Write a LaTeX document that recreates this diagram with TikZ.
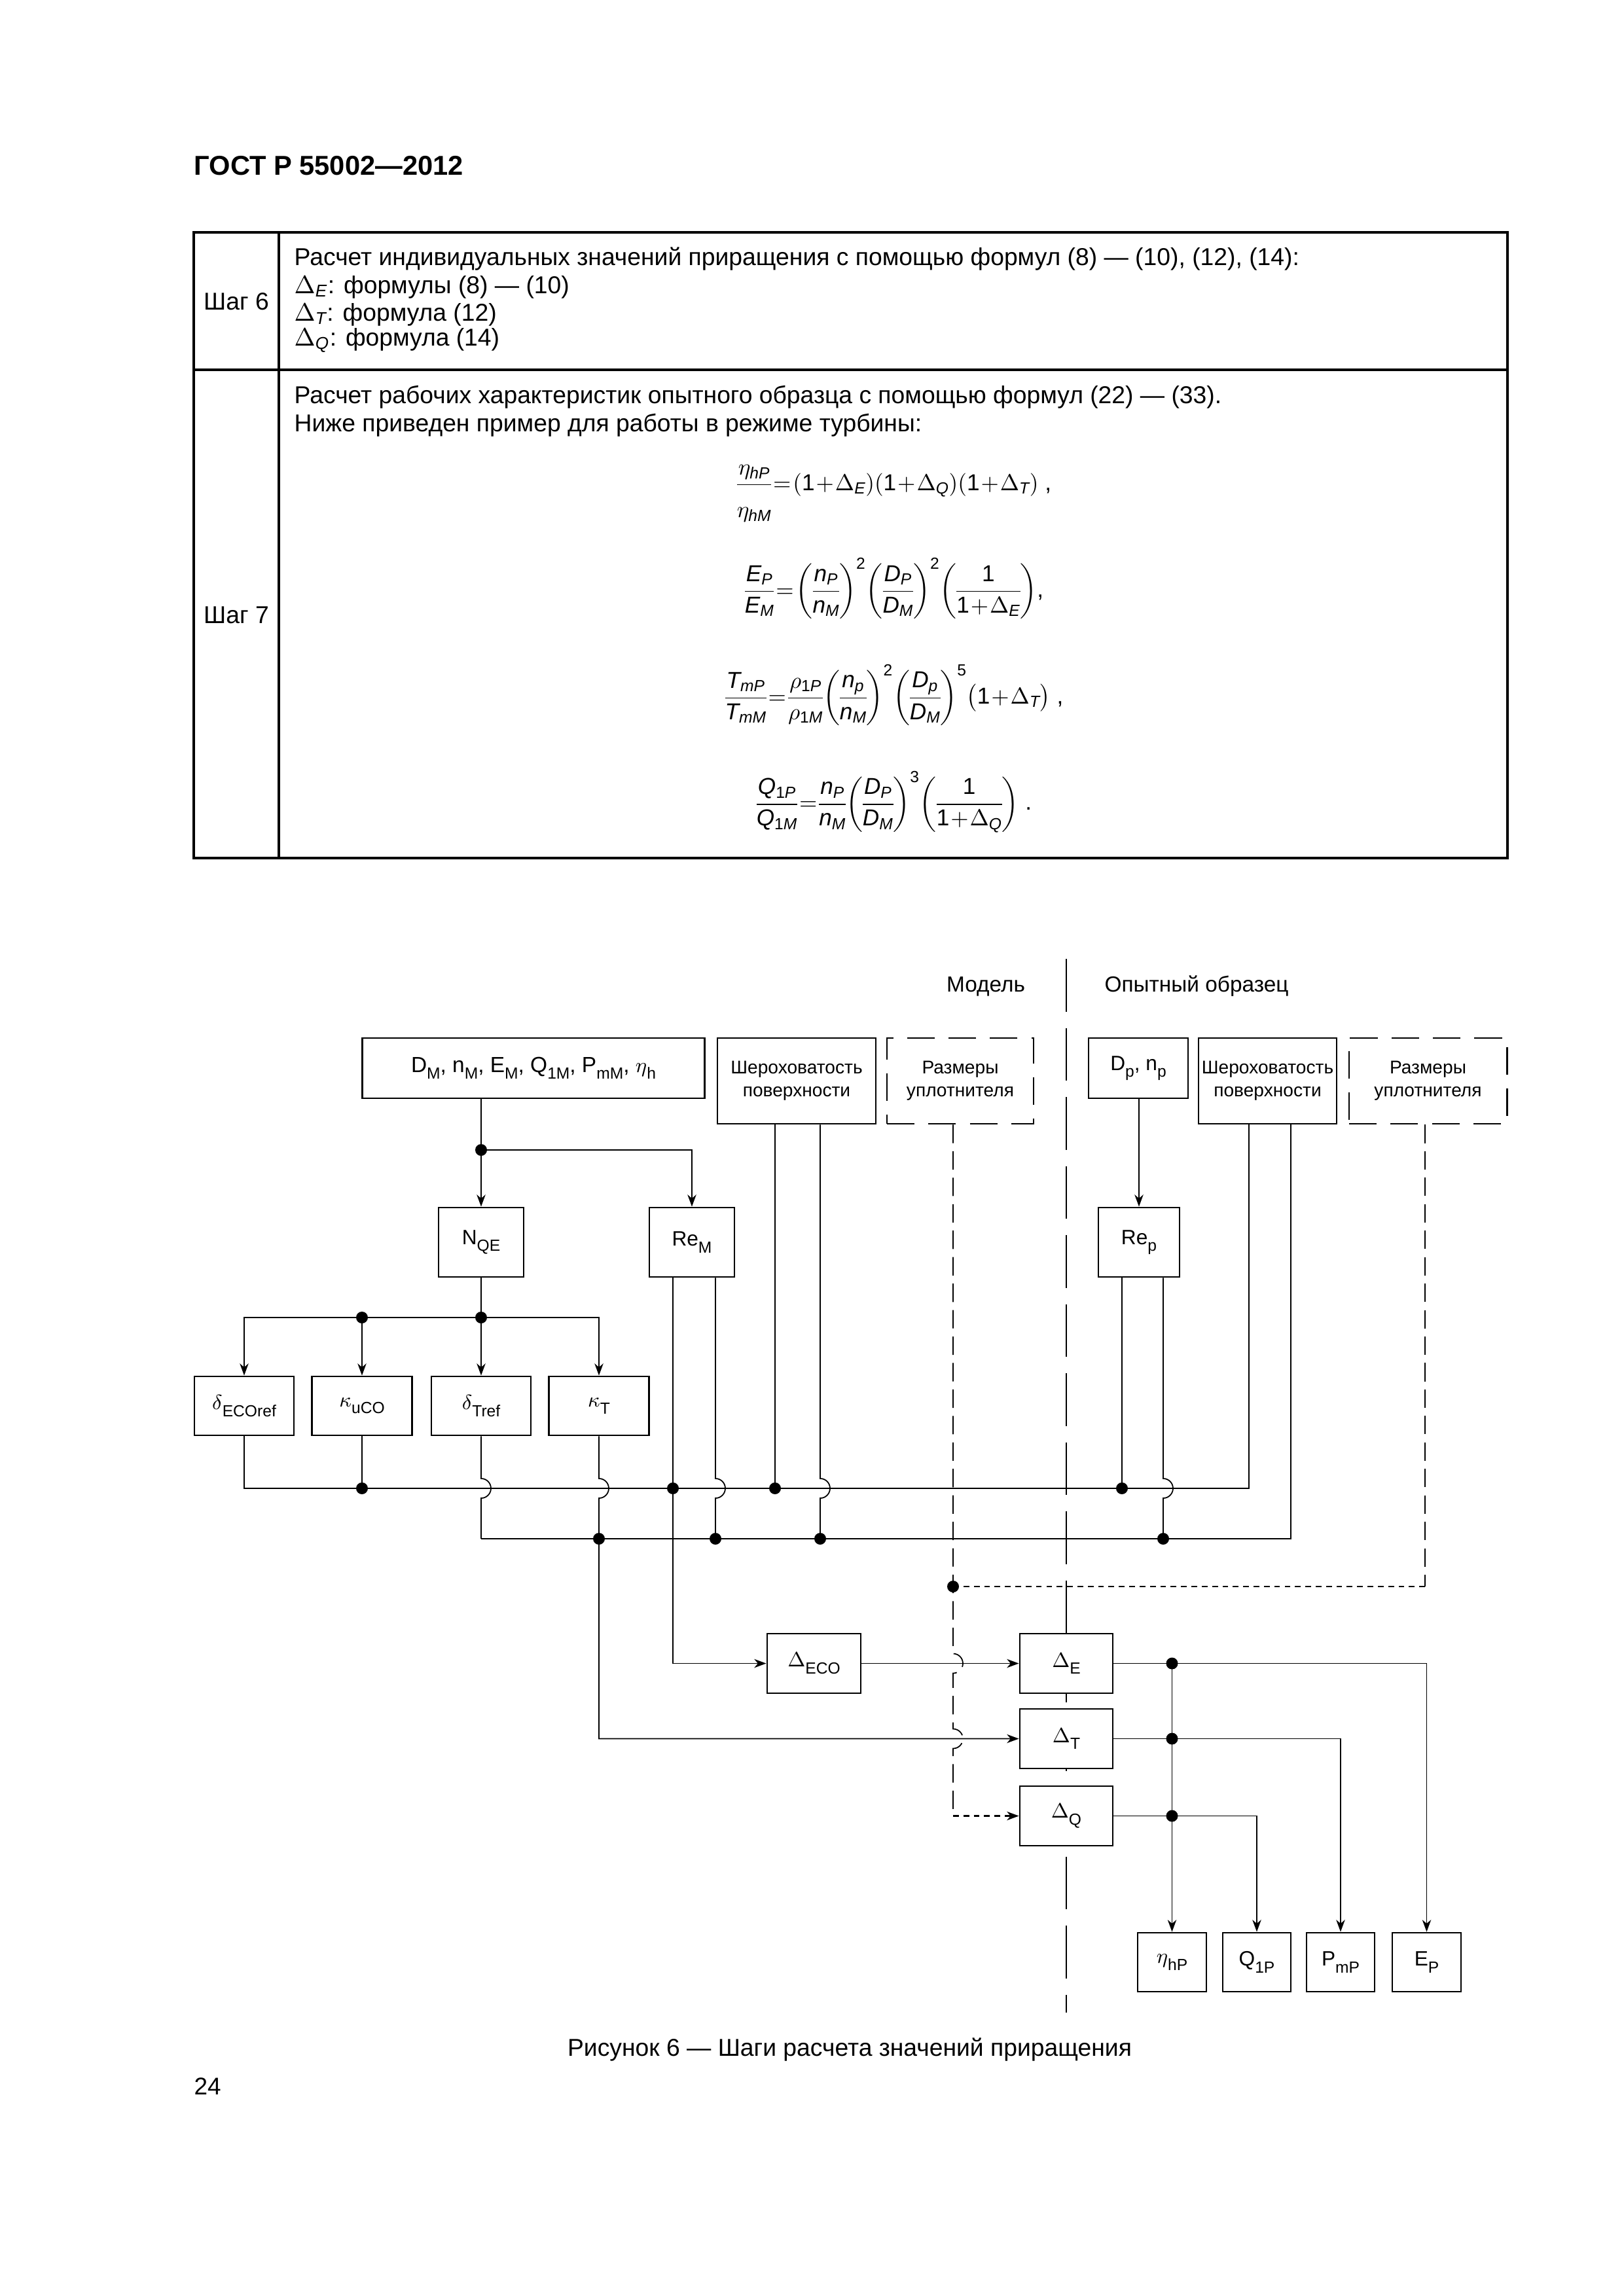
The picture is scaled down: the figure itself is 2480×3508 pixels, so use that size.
\documentclass[tikz,border=0pt]{standalone}
\usepackage{fontspec}
\setmainfont{Liberation Sans}
\usepackage{amsmath}
\usetikzlibrary{arrows.meta,calc}
\newcommand\sbl[1]{\raisebox{-3pt}{\fontsize{7}{7}\selectfont #1}}
\newcommand\vi[1]{\mathit{#1}}
\newcommand\nr[1]{\mathrm{#1}}
\newcommand\fm[1]{{\thinmuskip=0mu\medmuskip=1mu\thickmuskip=1.5mu\nulldelimiterspace=0pt\scriptspace=0.2pt$\displaystyle #1$}}
\begin{document}
\begin{tikzpicture}[x=0.01cm,y=-0.01cm,
  box/.style={draw,line width=0.8pt,fill=white,inner sep=0pt,align=center,font=\fontsize{9}{11}\selectfont},
  sbox/.style={box,font=\fontsize{8}{10}\selectfont},
  dbox/.style={sbox,dash pattern=on 12pt off 6pt},
  con/.style={line width=0.5pt},
  bus/.style={line width=0.65pt},
  arr/.style={-{Stealth[length=5.2pt,width=3.8pt,inset=1.6pt]}},
  lnd/.style={line width=0.5pt,dash pattern=on 8pt off 3.5pt},
  snd/.style={line width=0.6pt,dash pattern=on 2.5pt off 2pt},
  cdl/.style={line width=0.5pt,dash pattern=on 23pt off 7pt},
  tline/.style={line width=0.9pt},
  txt/.style={inner sep=0pt,font=\fontsize{10.6}{12.5}\selectfont},
  ftxt/.style={inner sep=0pt,font=\fontsize{10}{12}\selectfont},
  lbl/.style={inner sep=0pt,font=\fontsize{9.5}{11}\selectfont},
]
\fill[white] (0,0) rectangle (2480,3508);
\useasboundingbox (0,0) rectangle (2480,3508);

% header
\node[anchor=base west,inner sep=0pt,font=\bfseries\fontsize{11.85}{14}\selectfont] (hdr) at (296,267) {ГОСТ Р 55002—2012};

% table
\draw[tline] (296,355) rectangle (2303,1311);
\draw[tline] (426,355) -- (426,1311);
\draw[tline] (296,565) -- (2303,565);
\node[txt] (s6) at (361,461) {Шаг 6};
\node[txt] (s7) at (361,940) {Шаг 7};
\node[txt,anchor=base west] (t6a) at (449,405) {Расчет индивидуальных значений приращения с помощью формул (8) — (10), (12), (14):};
\node[txt,anchor=base west] (t6b) at (449,448) {$\Delta_{\vi{E}}$: формулы (8) — (10)};
\node[txt,anchor=base west] (t6c) at (449,490) {$\Delta_{\vi{T}}$: формула (12)};
\node[txt,anchor=base west] (t6d) at (449,528) {$\Delta_{\vi{Q}}$: формула (14)};
\node[txt,anchor=base west] (t7a) at (449,616) {Расчет рабочих характеристик опытного образца с помощью формул (22) — (33).};
\node[txt,anchor=base west] (t7b) at (449,659) {Ниже приведен пример для работы в режиме турбины:};

\node[ftxt] (f1) at (1366,754) {\fm{\dfrac{\eta_{\vi{hP}}}{\raisebox{-5pt}{$\eta_{\vi{hM}}$}}=(\nr{1}+\Delta_{\vi{E}})(\nr{1}+\Delta_{\vi{Q}})(\nr{1}+\Delta_{\vi{T}})}~,};
\node[ftxt] (f2) at (1366,899) {\fm{\dfrac{\vi{E}_{\vi{P}}}{\vi{E}_{\vi{M}}}=\left(\dfrac{\vi{n}_{\vi{P}}}{\vi{n}_{\vi{M}}}\right)^{\nr{2}}\left(\dfrac{\vi{D}_{\vi{P}}}{\vi{D}_{\vi{M}}}\right)^{\nr{2}}\left(\dfrac{\nr{1}}{\nr{1}+\Delta_{\vi{E}}}\right)},};
\node[ftxt] (f3) at (1366,1062) {\fm{\dfrac{\vi{T}_{\vi{mP}}}{\vi{T}_{\vi{mM}}}=\dfrac{\rho_{\nr{1}\vi{P}}}{\rho_{\nr{1}\vi{M}}}\left(\dfrac{\vi{n}_{\vi{p}}}{\vi{n}_{\vi{M}}}\right)^{\nr{2}}\left(\dfrac{\vi{D}_{\vi{p}}}{\vi{D}_{\vi{M}}}\right)^{\nr{5}}\bigl(\nr{1}+\Delta_{\vi{T}}\bigr)}~,};
\node[ftxt] (f4) at (1366,1225) {\fm{\dfrac{\vi{Q}_{\nr{1}\vi{P}}}{\vi{Q}_{\nr{1}\vi{M}}}=\dfrac{\vi{n}_{\vi{P}}}{\vi{n}_{\vi{M}}}\left(\dfrac{\vi{D}_{\vi{P}}}{\vi{D}_{\vi{M}}}\right)^{\nr{3}}\left(\dfrac{\nr{1}}{\nr{1}+\Delta_{\vi{Q}}}\right)}~.};

% centre line
\draw[cdl] (1629,1465) -- (1629,3075);
\node[lbl,anchor=base] (mod) at (1506,1515) {Модель};
\node[lbl,anchor=base] (opt) at (1828,1515) {Опытный образец};

% top row
\node[box,font=\fontsize{9.5}{11}\selectfont,minimum width=5.22cm,minimum height=0.92cm] (dm) at (815,1632) {D\sbl{M}, n\sbl{M}, E\sbl{M}, Q\sbl{1M}, P\sbl{mM}, $\eta$\sbl{h}};
\node[sbox,minimum width=2.42cm,minimum height=1.31cm] (sh1) at (1217,1651.5) {Шероховатость\\поверхности};
\node[dbox,minimum width=2.24cm,minimum height=1.31cm] (raz1) at (1467,1651.5) {Размеры\\уплотнителя};
\node[box,minimum width=1.52cm,minimum height=0.92cm] (dp) at (1739,1632) {D\sbl{p}, n\sbl{p}};
\node[sbox,minimum width=2.11cm,minimum height=1.31cm] (sh2) at (1936.5,1651.5) {Шероховатость\\поверхности};
\node[dbox,minimum width=2.41cm,minimum height=1.31cm] (raz2) at (2181.5,1651.5) {Размеры\\уплотнителя};

% second row
\node[box,minimum width=1.30cm,minimum height=1.06cm] (nqe) at (735,1898) {N\sbl{QE}};
\node[box,minimum width=1.30cm,minimum height=1.06cm] (rem) at (1057,1898) {Re\sbl{M}};
\node[box,minimum width=1.24cm,minimum height=1.06cm] (rep) at (1740,1898) {Re\sbl{p}};

% third row
\node[box,minimum width=1.52cm,minimum height=0.90cm] (decor) at (373,2148) {$\delta$\sbl{ECOref}};
\node[box,minimum width=1.53cm,minimum height=0.90cm] (kuco) at (553,2148) {$\kappa$\sbl{uCO}};
\node[box,minimum width=1.52cm,minimum height=0.90cm] (dtref) at (735,2148) {$\delta$\sbl{Tref}};
\node[box,minimum width=1.53cm,minimum height=0.90cm] (kt) at (915,2148) {$\kappa$\sbl{T}};

% delta row
\node[box,minimum width=1.43cm,minimum height=0.91cm] (deco) at (1243.5,2541.5) {$\Delta$\sbl{ECO}};
\node[box,minimum width=1.42cm,minimum height=0.91cm] (de) at (1629,2541.5) {$\Delta$\sbl{E}};
\node[box,minimum width=1.42cm,minimum height=0.91cm] (dt) at (1629,2656.5) {$\Delta$\sbl{T}};
\node[box,minimum width=1.42cm,minimum height=0.91cm] (dq) at (1629,2774.5) {$\Delta$\sbl{Q}};

% outputs
\node[box,minimum width=1.05cm,minimum height=0.90cm] (etah) at (1790.5,2998) {$\eta$\sbl{hP}};
\node[box,minimum width=1.04cm,minimum height=0.90cm] (q1p) at (1920,2998) {Q\sbl{1P}};
\node[box,minimum width=1.04cm,minimum height=0.90cm] (pmp) at (2048,2998) {P\sbl{mP}};
\node[box,minimum width=1.05cm,minimum height=0.90cm] (ep) at (2179.5,2998) {E\sbl{P}};

% helper coordinates
\coordinate (ysp) at (0,1757);
\coordinate (ybr) at (0,2013);
\coordinate (yb1) at (0,2274);
\coordinate (yb2) at (0,2351);
\coordinate (yrz) at (0,2424);
\coordinate (rema) at ($(rem.south)+(-29,0)$);
\coordinate (remb) at ($(rem.south)+(36,0)$);
\coordinate (sh1a) at ($(sh1.south)+(-33,0)$);
\coordinate (sh1b) at ($(sh1.south)+(36,0)$);
\coordinate (repa) at ($(rep.south)+(-26,0)$);
\coordinate (repb) at ($(rep.south)+(37,0)$);
\coordinate (sh2a) at ($(sh2.south)+(-28.5,0)$);
\coordinate (sh2b) at ($(sh2.south)+(35.5,0)$);
\coordinate (rz1) at ($(raz1.south)+(-11,0)$);
\coordinate (rz2) at ($(raz2.south)+(-4.5,0)$);

% top connectors
\draw[con,arr] (nqe.north |- dm.south) -- (nqe.north);
\draw[con,arr] (nqe.north |- ysp) -| (rem.north);
\fill (nqe.north |- ysp) circle[radius=9];
\draw[con,arr] (rep.north |- dp.south) -- (rep.north);

% NQE branch
\draw[con,arr] (nqe.south) -- (dtref.north);
\draw[con,arr] (nqe.south |- ybr) -| (decor.north);
\draw[con,arr] (nqe.south |- ybr) -| (kt.north);
\draw[con,arr] (kuco.north |- ybr) -- (kuco.north);
\fill (nqe.south |- ybr) circle[radius=9];
\fill (kuco.north |- ybr) circle[radius=9];

% buses
\draw[bus] (decor.south) |- (sh2a |- yb1) -- (sh2a);
\draw[bus] (dtref.south |- yb2) -| (sh2b);

% verticals
\draw[con] (kuco.south) -- (kuco.south |- yb1);
\fill (kuco.south |- yb1) circle[radius=9];
\draw[con] (dtref.south) -- ($(dtref.south |- yb1)+(0,-15)$) arc[start angle=-90,end angle=90,radius=15] -- (dtref.south |- yb2);
\draw[con,arr] (kt.south) -- ($(kt.south |- yb1)+(0,-15)$) arc[start angle=-90,end angle=90,radius=15] -- (kt.south |- dt.west) -- (dt.west);
\fill (kt.south |- yb2) circle[radius=9];
\draw[con,arr] (rema) -- (rema |- deco.west) -- (deco.west);
\fill (rema |- yb1) circle[radius=9];
\draw[con] (remb) -- ($(remb |- yb1)+(0,-15)$) arc[start angle=-90,end angle=90,radius=15] -- (remb |- yb2);
\fill (remb |- yb2) circle[radius=9];
\draw[con] (sh1a) -- (sh1a |- yb1);
\fill (sh1a |- yb1) circle[radius=9];
\draw[con] (sh1b) -- ($(sh1b |- yb1)+(0,-15)$) arc[start angle=-90,end angle=90,radius=15] -- (sh1b |- yb2);
\fill (sh1b |- yb2) circle[radius=9];
\draw[con] (repa) -- (repa |- yb1);
\fill (repa |- yb1) circle[radius=9];
\draw[con] (repb) -- ($(repb |- yb1)+(0,-15)$) arc[start angle=-90,end angle=90,radius=15] -- (repb |- yb2);
\fill (repb |- yb2) circle[radius=9];

% dashed seal lines
\draw[lnd] (rz1) -- ($(rz1 |- deco.east)+(0,-15)$) arc[start angle=-90,end angle=90,radius=15] -- ($(rz1 |- dt.west)+(0,-15)$) arc[start angle=-90,end angle=90,radius=15] -- (rz1 |- dq.west);
\draw[snd,arr] (rz1 |- dq.west) -- (dq.west);
\draw[lnd] (rz2) -- (rz2 |- yrz);
\draw[snd] (rz2 |- yrz) -- (rz1 |- yrz);
\fill (rz1 |- yrz) circle[radius=9];

% delta connections
\draw[con,arr] (deco.east) -- (de.west);
\draw[con,arr] (de.east) -| (ep.north);
\draw[con,arr] (dt.east) -| (pmp.north);
\draw[con,arr] (dq.east) -| (q1p.north);
\draw[con,arr] (etah.north |- de.east) -- (etah.north);
\fill (etah.north |- de.east) circle[radius=9];
\fill (etah.north |- dt.east) circle[radius=9];
\fill (etah.north |- dq.east) circle[radius=9];

% caption and page number
\node[anchor=base,inner sep=0pt,font=\fontsize{10.6}{12}\selectfont] (cap) at (1298,3141) {Рисунок 6 — Шаги расчета значений приращения};
\node[anchor=base west,inner sep=0pt,font=\fontsize{10.5}{12}\selectfont] (pg) at (296,3200) {24};
\end{tikzpicture}
\end{document}
